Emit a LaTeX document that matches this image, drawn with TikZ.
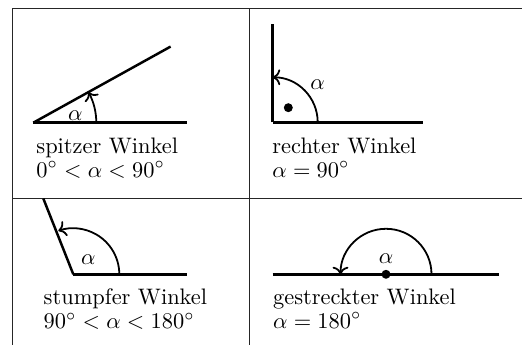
\documentclass[tikz,border=0pt]{standalone}
\usepackage{amsmath,amssymb}
\usepackage{tikz}
\usetikzlibrary{arrows.meta, positioning, calc}
\tikzset{
  rule/.style     = {line width=0.4pt, draw=black!85},
  ray/.style      = {line width=1.1pt},
  anglearc/.style = {line width=0.8pt, ->},
  caption/.style  = {anchor=north west, inner sep=0pt, align=left,
                     font=\fontsize{10}{10.4}\selectfont},
  alphalbl/.style = {inner sep=0pt},
  vdot/.style     = {circle, fill, inner sep=0pt, minimum size=4pt},
}

\begin{document}
\begin{tikzpicture}[x=0.446pt, y=0.446pt]
    \useasboundingbox (0,0) rectangle (522,345);

    %% table rules
    \coordinate (tl) at (12,336.7);
    \coordinate (tr) at (522,336.7);
    \coordinate (ml) at (12,146.5);
    \coordinate (mr) at (522,146.5);
    \draw[rule] (tl) -- (tr);
    \draw[rule] (ml) -- (mr);
    \draw[rule] (tl) -- (12,0);
    \draw[rule] (249,336.7) -- (249,0);

    %% spitzer Winkel
    \coordinate (v1) at (33.3,222.3);
    \draw[ray] (v1) -- ++(153.4,0);
    \draw[ray] (v1) -- ++(29:157);
    \draw[anglearc] ([shift={(0:63)}]v1) arc[start angle=0, end angle=29, radius=63];
    \node[alphalbl] (a1) at (75.3,229.5) {$\alpha$};
    \node[caption] (c1) at (36,207.3) {spitzer Winkel\\$0^\circ < \alpha < 90^\circ$};

    %% rechter Winkel
    \coordinate (v2) at (272.7,222.7);
    \draw[ray] (v2) -- ++(150.6,0);
    \draw[ray] (v2) -- ++(0,98.3);
    \draw[anglearc] ([shift={(0:45)}]v2) arc[start angle=0, end angle=90, radius=45];
    \node[alphalbl] (a2) at (317.7,260.7) {$\alpha$};
    \node[vdot] (d2) at (288.3,237.3) {};
    \node[caption] (c2) at (272,207.3) {rechter Winkel\\$\alpha = 90^\circ$};

    %% stumpfer Winkel
    \coordinate (v3) at (73.3,70.7);
    \draw[ray] (v3) -- ++(113.4,0);
    \draw[ray] (v3) -- (43.3,146.5);
    \draw[anglearc] ([shift={(0:46)}]v3) arc[start angle=0, end angle=109, radius=46];
    \node[alphalbl] (a3) at (88.3,85.7) {$\alpha$};
    \node[caption] (c3) at (43.3,56.3) {stumpfer Winkel\\$90^\circ < \alpha < 180^\circ$};

    %% gestreckter Winkel
    \coordinate (v4) at (386,70.7);
    \draw[ray] (272.7,70.7) -- (499.3,70.7);
    \draw[anglearc] ([shift={(0:45.5)}]v4) arc[start angle=0, end angle=180, radius=45.5];
    \node[vdot] (d4) at (v4) {};
    \node[alphalbl] (a4) at (386,86.5) {$\alpha$};
    \node[caption] (c4) at (272.7,56.3) {gestreckter Winkel\\$\alpha = 180^\circ$};

\end{tikzpicture}
\end{document}
